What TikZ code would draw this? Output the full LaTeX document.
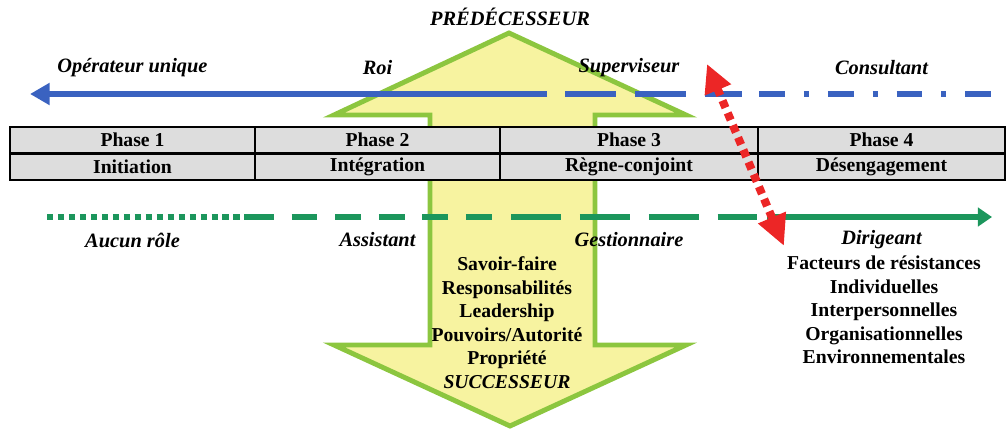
\documentclass[tikz,border=0pt]{standalone}
\usepackage{fontspec}
\setmainfont{Liberation Serif}
\usetikzlibrary{arrows,arrows.meta,positioning}
\definecolor{arrowfill}{RGB}{247,243,160}
\definecolor{arrowline}{RGB}{140,198,63}
\definecolor{roleblue}{RGB}{58,98,192}
\definecolor{rolegreen}{RGB}{28,150,92}
\definecolor{resred}{RGB}{236,38,38}
\definecolor{cellgray}{RGB}{221,221,221}
\tikzstyle{cell} = [draw, fill=cellgray, line width=1.4pt, rectangle, minimum height=0.6375cm, inner sep=0pt, font=\fontsize{14}{17}\selectfont\bfseries]
\tikzstyle{role} = [inner sep=1pt, font=\fontsize{14.5}{17}\selectfont\bfseries\itshape]
\tikzstyle{itemlist} = [align=center, inner sep=0pt, font=\fontsize{14}{16.7}\selectfont\bfseries]
\tikzstyle{endpt} = [coordinate]

\begin{document}
\begin{tikzpicture}[x=0.025cm, y=-0.025cm, >=latex']
    \useasboundingbox (0,0) rectangle (1008,432);
    % Transfer arrow
    \draw [fill=arrowfill, draw=arrowline, line width=3.5pt, line join=miter]
        (509,33) -- (686,115) -- (595,115) -- (595,345) -- (686,345) -- (510,426)
        -- (334,345) -- (430,345) -- (430,115) -- (334,115) -- cycle;

    % Phases
    \node [cell, minimum width=6.125cm] (ph1) at (132.5,139.75) {Phase 1};
    \node [cell, minimum width=6.125cm] (ph2) at (377.5,139.75) {Phase 2};
    \node [cell, minimum width=6.45cm] (ph3) at (629,139.75) {Phase 3};
    \node [cell, minimum width=6.15cm] (ph4) at (881.5,139.75) {Phase 4};
    \node [cell, minimum width=6.125cm, below=0pt of ph1] (st1) {Initiation};
    \node [cell, minimum width=6.125cm, below=0pt of ph2] (st2) {Intégration};
    \node [cell, minimum width=6.45cm, below=0pt of ph3] (st3) {Règne-conjoint};
    \node [cell, minimum width=6.15cm, below=0pt of ph4] (st4) {Désengagement};

    % Predecessor line
    \node [endpt] (blueL) at (30,94) {};
    \node [endpt] (blueA) at (547,94) {};
    \node [endpt] (blueB) at (565,94) {};
    \node [endpt] (blueC) at (742,94) {};
    \node [endpt] (blueD) at (759,94) {};
    \node [endpt] (blueR) at (992,94) {};
    \draw [roleblue, line width=4.3pt, -{Triangle[length=14pt,width=15pt]}] (blueA) -- (blueL);
    \draw [roleblue, line width=4.3pt, dash pattern=on 36.2pt off 13.5pt] (blueB) -- (blueC);
    \draw [roleblue, line width=4.3pt, dash pattern=on 18.4pt off 13.5pt on 3.5pt off 13.5pt] (blueD) -- (blueR);

    % Successor line
    \node [endpt] (greenL) at (47,217) {};
    \node [endpt] (greenA) at (248,217) {};
    \node [endpt] (greenB) at (493,217) {};
    \node [endpt] (greenC) at (511,217) {};
    \node [endpt] (greenD) at (757,217) {};
    \node [endpt] (greenE) at (767,217) {};
    \node [endpt] (greenR) at (992,217) {};
    \draw [rolegreen, line width=3.8pt, dash pattern=on 4.5pt off 3.3pt] (greenL) -- (greenA);
    \draw [rolegreen, line width=3.8pt, dash pattern=on 18.4pt off 12.6pt] (greenA) -- (greenB);
    \draw [rolegreen, line width=3.8pt, dash pattern=on 35.5pt off 13.5pt] (greenC) -- (greenD);
    \draw [rolegreen, line width=3.8pt, -{Triangle[length=10pt,width=13pt]}] (greenE) -- (greenR);

    % Labels
    \node [role] (pred) at (510,17) {PRÉDÉCESSEUR};
    \node [role] (opu) at (132.5,68) {Opérateur unique};
    \node [role] (roi) at (377.5,68) {Roi};
    \node [role] (sup) at (629,68) {Superviseur};
    \node [role] (con) at (881.5,68) {Consultant};
    \node [role] (auc) at (132.5,240) {Aucun rôle};
    \node [role] (ass) at (377.5,240) {Assistant};
    \node [role] (ges) at (629,240) {Gestionnaire};
    \node [role] (dir) at (881.5,240) {Dirigeant};
    \node [itemlist] (transfer) at (507,322.5) {Savoir-faire\\Responsabilités\\Leadership\\Pouvoirs/Autorité\\Propriété\\{\itshape SUCCESSEUR}};
    \node [itemlist] (resist) at (884,310) {Facteurs de résistances\\Individuelles\\Interpersonnelles\\Organisationnelles\\Environnementales};

    % Resistance
    \node [endpt] (redT) at (707,64) {};
    \node [endpt] (redB) at (784,246) {};
    \draw [resred, line width=5.8pt, dash pattern=on 5.5pt off 4pt,
        {Triangle[length=20pt,width=19pt]}-{Triangle[length=22pt,width=20pt]}] (redT) -- (redB);
\end{tikzpicture}
\end{document}
